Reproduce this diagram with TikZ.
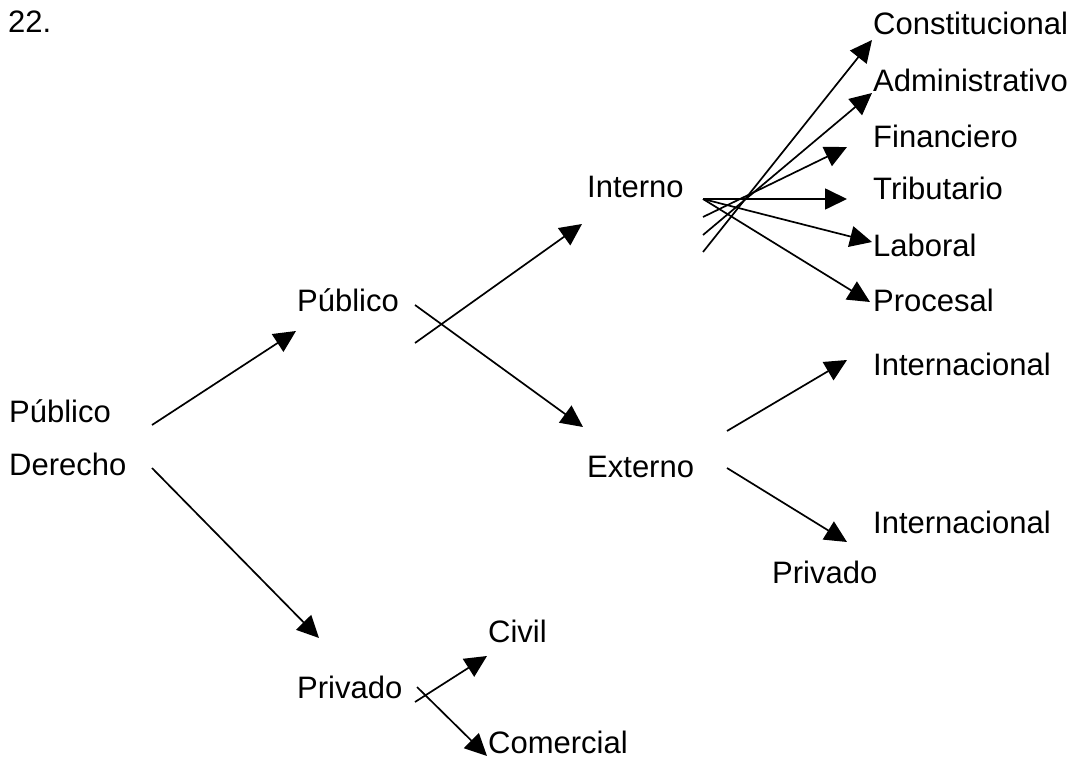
\documentclass[tikz,border=0pt]{standalone}
\usepackage{fontspec}
\setmainfont{Liberation Sans}
\usetikzlibrary{arrows.meta}

\begin{document}
\begin{tikzpicture}[x=1pt,y=-1pt,
    lbl/.style={anchor=base west,inner sep=0pt,font=\fontsize{31}{37}\selectfont},
    arr/.style={-{Triangle[length=22pt,width=21pt]},line width=1.7pt}]
  \useasboundingbox (0,0) rectangle (1074,759);
  % labels
  \node[lbl] (num)   at (8,33)    {22.};
  \node[lbl] (pubA)  at (9,422)   {Público};
  \node[lbl] (der)   at (9,475)   {Derecho};
  \node[lbl] (pubB)  at (297,312) {Público};
  \node[lbl] (privB) at (297,698) {Privado};
  \node[lbl] (int)   at (587,198) {Interno};
  \node[lbl] (ext)   at (587,477) {Externo};
  \node[lbl] (civ)   at (488,642) {Civil};
  \node[lbl] (com)   at (488,753) {Comercial};
  \node[lbl] (cons)  at (873,35)  {Constitucional};
  \node[lbl] (adm)   at (873,92)  {Administrativo};
  \node[lbl] (fin)   at (873,148) {Financiero};
  \node[lbl] (trib)  at (873,200) {Tributario};
  \node[lbl] (lab)   at (873,257) {Laboral};
  \node[lbl] (proc)  at (873,312) {Procesal};
  \node[lbl] (intA)  at (873,375) {Internacional};
  \node[lbl] (intB)  at (873,533) {Internacional};
  \node[lbl] (privC) at (772,583) {Privado};
  % connector ends
  \coordinate (d1) at (152,425); \coordinate (d1t) at (296,331);
  \coordinate (d2) at (152,468); \coordinate (d2t) at (319,638);
  \coordinate (p1) at (415,343); \coordinate (p1t) at (582,224);
  \coordinate (p2) at (415,305); \coordinate (p2t) at (583,427);
  \coordinate (v1) at (415,702); \coordinate (v1t) at (487,656);
  \coordinate (v2) at (417,687); \coordinate (v2t) at (487,756);
  \coordinate (f0) at (703,199);
  \coordinate (f1) at (703,217); \coordinate (f2) at (703,235);
  \coordinate (f3) at (703,252);
  \coordinate (consT) at (872,40);  \coordinate (admT) at (872,93);
  \coordinate (finT)  at (847,147); \coordinate (tribT) at (847,199);
  \coordinate (labT)  at (872,242); \coordinate (procT) at (870,302);
  \coordinate (e1) at (727,431); \coordinate (e1t) at (847,360);
  \coordinate (e2) at (727,468); \coordinate (e2t) at (847,542);
  % arrows
  \draw[arr] (d1) -- (d1t);
  \draw[arr] (d2) -- (d2t);
  \draw[arr] (p1) -- (p1t);
  \draw[arr] (p2) -- (p2t);
  \draw[arr] (v1) -- (v1t);
  \draw[arr] (v2) -- (v2t);
  \draw[arr] (f3) -- (consT);
  \draw[arr] (f2) -- (admT);
  \draw[arr] (f1) -- (finT);
  \draw[arr] (f0) -- (tribT);
  \draw[arr] (f0) -- (labT);
  \draw[arr] (f0) -- (procT);
  \draw[arr] (e1) -- (e1t);
  \draw[arr] (e2) -- (e2t);
\end{tikzpicture}
\end{document}
